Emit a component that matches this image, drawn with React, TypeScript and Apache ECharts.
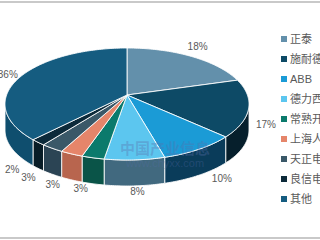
import React, { useEffect, useRef } from "react";
import * as echarts from "echarts";

const categories = ["正泰", "施耐德", "ABB", "德力西", "常熟开关", "上海人民", "天正电气", "良信电器", "其他"];
const values = [18, 17, 10, 8, 3, 3, 3, 2, 36];
const topColors = ["#6390ab", "#0d4a66", "#1b9bd6", "#5cc6ef", "#0b7a6c", "#e5856a", "#3a5868", "#0c2a3a", "#155c80"];
const wallColors = ["#3d6580", "#061f2c", "#0a3c5a", "#41697f", "#0a5448", "#b8654e", "#2b4454", "#081c26", "#0f4e6e"];

const total = values.reduce((a, b) => a + b, 0);
const starts: number[] = [];
{
  let acc = 0;
  for (const v of values) {
    starts.push(acc);
    acc += v;
  }
}

const CX = 127;
const CY = 104;
const RX = 122;
const RY = 56;
const VX = 127;
const VY = 95;
const DEPTH = 26;
const FONT = "Liberation Sans, Arial, Noto Sans CJK SC, sans-serif";

function pt(a: number, dy = 0): number[] {
  return [CX + RX * Math.sin(a), CY - RY * Math.cos(a) + dy];
}

function arc(a0: number, a1: number, dy = 0): number[][] {
  const pts: number[][] = [];
  const n = Math.max(2, Math.ceil(((a1 - a0) * 180) / Math.PI));
  for (let k = 0; k <= n; k++) pts.push(pt(a0 + ((a1 - a0) * k) / n, dy));
  return pts;
}

function angles(i: number, v: number) {
  const a0 = (starts[i] / total) * Math.PI * 2;
  const a1 = a0 + (v / total) * Math.PI * 2;
  return [a0, a1];
}

export default function App() {
  const ref = useRef<HTMLDivElement>(null);
  useEffect(() => {
    if (!ref.current) return;
    const chart = echarts.init(ref.current, undefined, { renderer: "svg" });
    const data = values.map((v, i) => ({ name: categories[i], value: [v] }));
    chart.setOption({
      animation: false,
      backgroundColor: "#ffffff",
      legend: {
        orient: "vertical",
        left: 281,
        top: 32,
        padding: 0,
        icon: "rect",
        itemWidth: 6,
        itemHeight: 6,
        itemGap: 6,
        textStyle: { color: "#595959", fontSize: 11, lineHeight: 14, fontFamily: FONT, padding: [0, 0, 0, -2] },
        data: categories,
      },
      graphic: [
        { type: "line", shape: { x1: 0, y1: 2, x2: 320, y2: 2 }, style: { stroke: "#c9c9c9", lineWidth: 2 } },
        { type: "line", shape: { x1: 0, y1: 238, x2: 320, y2: 238 }, style: { stroke: "#c9c9c9", lineWidth: 2 } },
        {
          type: "text",
          x: 165,
          y: 147,
          z: 100,
          style: { text: "中国产业信息", fill: "rgba(90,110,170,0.35)", fontSize: 15, fontWeight: "bold", fontFamily: "Noto Sans CJK SC", align: "center", verticalAlign: "middle" },
        },
        {
          type: "text",
          x: 165,
          y: 163,
          z: 100,
          style: { text: "www.chyxx.com", fill: "rgba(90,110,170,0.3)", fontSize: 11, fontFamily: FONT, align: "center", verticalAlign: "middle" },
        },
      ],
      series: [
        {
          type: "pie",
          radius: [0, 0],
          center: [-50, -50],
          silent: true,
          label: { show: false },
          labelLine: { show: false },
          data: values.map((v, i) => ({ name: categories[i], value: v, itemStyle: { color: topColors[i] } })),
        },
        {
          type: "custom",
          coordinateSystem: "none",
          z: 1,
          data,
          renderItem: (params: any, api: any) => {
            const i = params.dataIndex;
            const [a0, a1] = angles(i, api.value(0));
            const s = Math.max(a0, Math.PI / 2);
            const e = Math.min(a1, (Math.PI * 3) / 2);
            if (e <= s) return { type: "group", children: [] };
            const top = arc(s, e);
            const bottom = arc(s, e, DEPTH).reverse();
            return {
              type: "polygon",
              shape: { points: top.concat(bottom) },
              style: { fill: wallColors[i], stroke: "rgba(255,255,255,0.85)", lineWidth: 1 },
            };
          },
        },
        {
          type: "custom",
          coordinateSystem: "none",
          z: 2,
          data,
          renderItem: (params: any, api: any) => {
            const i = params.dataIndex;
            const v = api.value(0);
            const [a0, a1] = angles(i, v);
            const pts = [[VX, VY]].concat(arc(a0, a1));
            const m = (a0 + a1) / 2;
            const c = Math.cos(m);
            const sn = Math.sin(m);
            const front = c < 0;
            const kx = front ? 1.12 + 0.25 * -c : 1.08;
            const ky = front ? 1.1 : 1.22;
            const lx = CX + RX * kx * sn;
            const ly = CY - RY * ky * c + (front ? DEPTH * Math.pow(-c, 0.25) : 0);
            return {
              type: "group",
              children: [
                {
                  type: "polygon",
                  shape: { points: pts },
                  style: { fill: topColors[i], stroke: "rgba(255,255,255,0.85)", lineWidth: 1 },
                },
                {
                  type: "text",
                  x: lx,
                  y: ly,
                  style: {
                    text: Math.round((v / total) * 100) + "%",
                    fill: "#595959",
                    fontSize: 10,
                    fontFamily: FONT,
                    align: "center",
                    verticalAlign: "middle",
                  },
                },
              ],
            };
          },
        },
      ],
    });
    return () => chart.dispose();
  }, []);
  return <div ref={ref} style={{ position: "fixed", left: 0, top: 0, width: 320, height: 240 }} />;
}
